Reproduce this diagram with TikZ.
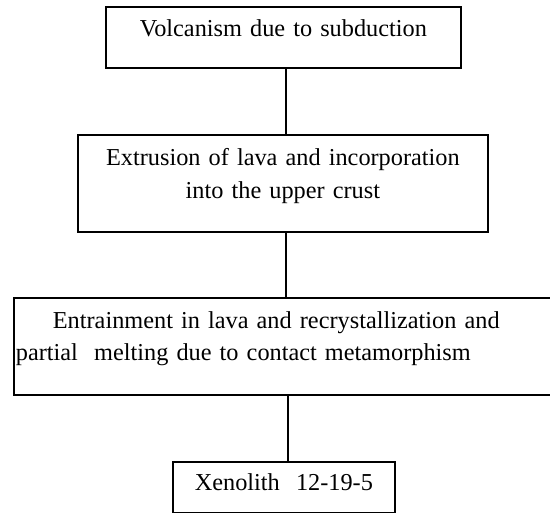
\documentclass[tikz,border=0pt]{standalone}
\usepackage{fontspec}
\setmainfont{Liberation Serif}
\begin{document}
\begin{tikzpicture}[
    x=1pt, y=-1pt,
    box/.style={rectangle, draw=black, line width=1.8pt, anchor=north west, inner xsep=0pt, inner ysep=0pt,
        font=\fontsize{24.3}{33}\selectfont},
    link/.style={draw, line width=1.8pt}
]
\useasboundingbox (0,0) rectangle (550,513);

\node[box, text width=355pt, align=center, text height=30pt, text depth=31.5pt] (volc) at (105,6)
    {Volcanism due to subduction};
\node[box, text width=410pt, align=center, text height=31pt, text depth=66pt] (extr) at (77,134)
    {Extrusion of lava and incorporation\\into the upper crust};
\node[box, text width=548pt, inner xsep=2pt, align=left, text height=31pt, text depth=66pt] (entr) at (13,297)
    {\hspace*{37pt}Entrainment in lava and recrystallization and\\[-1pt]partial\ \ melting due to contact metamorphism};
\node[box, text width=222pt, align=center, text height=29pt, text depth=22pt] (xeno) at (172,461)
    {Xenolith\ \ 12-19-5};

\draw[link] ([xshift=2.5pt]volc.south) -- ([xshift=2.5pt]volc.south |- extr.north);
\draw[link] ([xshift=3pt]extr.south) -- ([xshift=3pt]extr.south |- entr.north);
\draw[link] ([xshift=4pt]xeno.north) -- ([xshift=4pt]xeno.north |- entr.south);

\end{tikzpicture}
\end{document}
